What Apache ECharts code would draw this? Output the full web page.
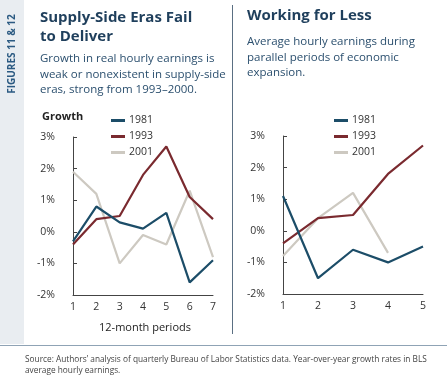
<!DOCTYPE html>
<html><head><meta charset="utf-8">
<script src="https://cdn.jsdelivr.net/npm/echarts@6/dist/echarts.min.js"></script>
<style>html,body{margin:0;padding:0;background:#fff}#c{width:447px;height:392px}</style>
</head><body><div id="c"></div>
<script>
const seriesNames = ['1981', '1993', '2001'];
const leftCategories = ['1', '2', '3', '4', '5', '6', '7'];
const left1981 = [-0.3, 0.8, 0.3, 0.1, 0.6, -1.6, -0.9];
const left1993 = [-0.4, 0.4, 0.5, 1.8, 2.7, 1.1, 0.4];
const left2001 = [1.9, 1.2, -1.0, -0.1, -0.4, 1.3, -0.8];
const rightCategories = ['1', '2', '3', '4', '5'];
const right1981 = [1.1, -1.5, -0.6, -1.0, -0.5];
const right1993 = [-0.4, 0.4, 0.5, 1.8, 2.7];
const right2001 = [-0.8, 0.4, 1.2, -0.7];
const colors = ['#1c4d68', '#7a2a2f', '#cdc9c1'];

const chart = echarts.init(document.getElementById('c'));
const font = '"Open Sans", "Noto Sans", sans-serif';
function yAxis(gi) {
  return {
    type: 'value', gridIndex: gi, min: -2, max: 3, interval: 1,
    axisLine: { show: true, lineStyle: { color: '#444', width: 1 } },
    axisTick: { show: true, inside: true, length: 4, lineStyle: { color: '#444' } },
    splitLine: { show: false },
    axisLabel: { formatter: '{value}%', color: '#333', fontSize: 10.5, fontFamily: font, margin: 18 }
  };
}
function xAxis(gi, cats) {
  return {
    type: 'category', gridIndex: gi, data: cats, boundaryGap: false,
    axisLine: { show: true, onZero: false, lineStyle: { color: '#444', width: 1 } },
    axisTick: { show: false },
    axisLabel: { color: '#333', fontSize: 10.5, fontFamily: font, margin: 7 }
  };
}
function line(name, data, gi, ci) {
  return {
    name: name, type: 'line', xAxisIndex: gi, yAxisIndex: gi, data: data,
    symbol: 'none', lineStyle: { width: 2.2, color: colors[ci] }, itemStyle: { color: colors[ci] },
    z: 3 - ci
  };
}
const titleStyle = { fill: '#1f3f5c', font: 'bold 15px ' + font };
const subStyle = { fill: '#2b4f6e', font: '11.5px ' + font };
chart.setOption({
  animation: false,
  color: colors,
  grid: [
    { left: 73, top: 137, width: 140, height: 158 },
    { left: 283, top: 136, width: 140, height: 158 }
  ],
  xAxis: [xAxis(0, leftCategories), xAxis(1, rightCategories)],
  yAxis: [yAxis(0), yAxis(1)],
  legend: [
    { data: seriesNames, orient: 'vertical', left: 106, top: 110, itemWidth: 14, itemHeight: 3, itemGap: 5, icon: 'rect',
      textStyle: { fontSize: 10.5, fontFamily: font, color: '#333', padding: [0, 0, 0, -1] } },
    { data: seriesNames, orient: 'vertical', left: 329, top: 110, itemWidth: 14, itemHeight: 3, itemGap: 5, icon: 'rect',
      textStyle: { fontSize: 10.5, fontFamily: font, color: '#333', padding: [0, 0, 0, -1] } }
  ],
  series: [
    line(seriesNames[0], left1981, 0, 0), line(seriesNames[1], left1993, 0, 1), line(seriesNames[2], left2001, 0, 2),
    line(seriesNames[0], right1981, 1, 0), line(seriesNames[1], right1993, 1, 1), line(seriesNames[2], right2001, 1, 2)
  ],
  graphic: [
    { type: 'rect', shape: { x: 0, y: 0, width: 24, height: 344 }, style: { fill: '#e9edf1' }, z: -1 },
    { type: 'text', x: 12, y: 54, rotation: Math.PI / 2, style: { text: 'FIGURES 11 & 12', fill: '#2b5a82', font: 'bold 10px ' + font, textAlign: 'center', textVerticalAlign: 'middle' } },
    { type: 'line', shape: { x1: 0, y1: 345.5, x2: 447, y2: 345.5 }, style: { stroke: '#8fa3b5', lineWidth: 1 } },
    { type: 'line', shape: { x1: 232.5, y1: 5, x2: 232.5, y2: 334 }, style: { stroke: '#5a6f82', lineWidth: 1 } },
    { type: 'text', x: 40, y: 8, style: Object.assign({ text: 'Supply-Side Eras Fail\nto Deliver', lineHeight: 19 }, titleStyle) },
    { type: 'text', x: 40, y: 51, style: Object.assign({ text: 'Growth in real hourly earnings is\nweak or nonexistent in supply-side\neras, strong from 1993–2000.', lineHeight: 15.5 }, subStyle) },
    { type: 'text', x: 247, y: 8, style: Object.assign({ text: 'Working for Less' }, titleStyle) },
    { type: 'text', x: 247, y: 34, style: Object.assign({ text: 'Average hourly earnings during\nparallel periods of economic\nexpansion.', lineHeight: 15.5 }, subStyle) },
    { type: 'text', x: 42, y: 111, style: { text: 'Growth', fill: '#222', font: 'bold 11px ' + font } },
    { type: 'text', x: 145, y: 322, style: { text: '12-month periods', fill: '#222', font: '11px ' + font, textAlign: 'center' } },
    { type: 'text', x: 25, y: 354, style: { text: 'Source: Authors\u2019 analysis of quarterly Bureau of Labor Statistics data. Year-over-year growth rates in BLS\naverage hourly earnings.', fill: '#444', font: '8.3px ' + font, lineHeight: 11 } }
  ]
});
</script></body></html>
